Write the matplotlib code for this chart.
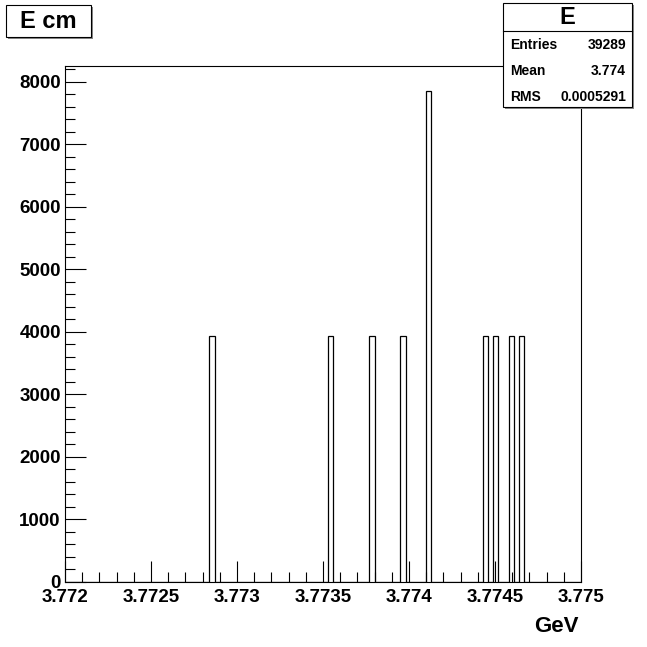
import numpy as np
import matplotlib
matplotlib.use("Agg")
import matplotlib.pyplot as plt
from matplotlib.patches import Rectangle
from matplotlib.ticker import MultipleLocator

# ---- data ----
x_min, x_max, n_bins = 3.772, 3.775, 100
filled_bins = [28, 51, 59, 65, 70, 81, 83, 86, 88]
bin_counts = [3929, 3929, 3929, 3929, 7858, 3929, 3929, 3929, 3929]
x_tick_values = [3.772, 3.7725, 3.773, 3.7735, 3.774, 3.7745, 3.775]
x_tick_labels = ["3.772", "3.7725", "3.773", "3.7735", "3.774", "3.7745", "3.775"]
y_tick_values = [0, 1000, 2000, 3000, 4000, 5000, 6000, 7000, 8000]
stats_names = ["Entries", "Mean", "RMS"]
stats_values = ["39289", "3.774", "0.0005291"]
hist_name = "E"
title_text = "E cm"
x_label = "GeV"

plt.rcParams['font.family'] = ['Liberation Sans', 'DejaVu Sans']
plt.rcParams['font.weight'] = 'bold'

W = H = 647
fig = plt.figure(figsize=(6.47, 6.47), dpi=100)

def fx(px):
    return px / W

def fy(py):
    return 1 - py / H

ax = fig.add_axes([fx(65), fy(582), fx(581) - fx(65), fy(66) - fy(582)])

edges = np.linspace(x_min, x_max, n_bins + 1)
values = np.zeros(n_bins)
for b, c in zip(filled_bins, bin_counts):
    values[b] = c
ax.stairs(values, edges, color='black', linewidth=0.9, baseline=0)

ax.set_xlim(x_min, x_max)
ax.set_ylim(0, 1.05 * max(bin_counts))

ax.set_xticks(x_tick_values)
ax.set_xticklabels(x_tick_labels)
ax.set_yticks(y_tick_values)
ax.set_yticklabels([str(v) for v in y_tick_values])
ax.xaxis.set_minor_locator(MultipleLocator(0.0001))
ax.yaxis.set_minor_locator(MultipleLocator(200))

ax.tick_params(axis='both', which='major', direction='in', length=15, width=0.8,
               labelsize=13.5, colors='black', top=False, right=False)
ax.tick_params(axis='both', which='minor', direction='in', length=7.5, width=0.8,
               top=False, right=False)
ax.tick_params(axis='x', which='major', pad=5)
ax.tick_params(axis='y', which='major', pad=3)
for lab in ax.get_xticklabels() + ax.get_yticklabels():
    lab.set_fontweight('bold')
for s in ax.spines.values():
    s.set_linewidth(0.8)

fig.text(fx(579), fy(627), x_label, ha='right', va='center', fontsize=16, fontweight='bold')

# title box
fig.patches.append(Rectangle((fx(8), fy(39)), fx(85), fy(5) - fy(37), transform=fig.transFigure,
                             facecolor='#888888', edgecolor='none', zorder=1))
fig.patches.append(Rectangle((fx(6), fy(37)), fx(85), fy(5) - fy(37), transform=fig.transFigure,
                             facecolor='white', edgecolor='black', linewidth=0.8, zorder=2))
fig.text(fx(48.5), fy(22), title_text, ha='center', va='center', fontsize=17, fontweight='bold', zorder=3)

# stats box
fig.patches.append(Rectangle((fx(505), fy(109)), fx(129), fy(3) - fy(107), transform=fig.transFigure,
                             facecolor='#888888', edgecolor='none', zorder=1))
fig.patches.append(Rectangle((fx(503), fy(107)), fx(129), fy(3) - fy(107), transform=fig.transFigure,
                             facecolor='white', edgecolor='black', linewidth=0.8, zorder=2))
fig.lines.append(plt.Line2D([fx(503), fx(632)], [fy(31), fy(31)], transform=fig.transFigure,
                            color='black', linewidth=0.8, zorder=3))
fig.text(fx(567.5), fy(17.5), hist_name, ha='center', va='center', fontsize=17, fontweight='bold', zorder=3)
row_y = [45, 71, 97]
for name, val, ry in zip(stats_names, stats_values, row_y):
    fig.text(fx(510), fy(ry), name, ha='left', va='center', fontsize=10, fontweight='bold', zorder=3)
    fig.text(fx(626), fy(ry), val, ha='right', va='center', fontsize=10, fontweight='bold', zorder=3)

fig.savefig("out.png", dpi=100, facecolor='white')
